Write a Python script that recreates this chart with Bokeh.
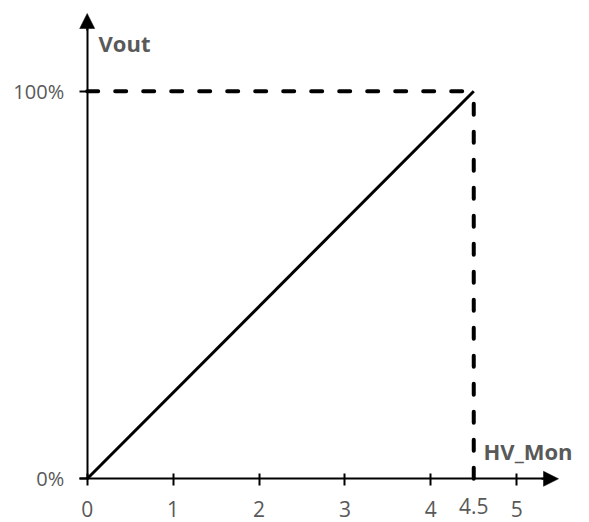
from bokeh.plotting import figure
from bokeh.models import LinearAxis, FixedTicker, Range1d, Arrow, NormalHead, Label
from bokeh.embed import file_html
from bokeh.resources import INLINE

# ---- data ----
hv_mon = [0, 4.5]
vout = [0, 100]
x_ticks = [0, 1, 2, 3, 4, 5]
x_tick_labels = ["0", "1", "2", "3", "4", "5"]
x_mark_ticks = [4.5]
x_mark_labels = ["4.5"]
y_ticks = [0, 100]
y_tick_labels = ["0%", "100%"]
x_title = "HV_Mon"
y_title = "Vout"

# ---- layout constants ----
W, H = 589, 522
PX_X, PX_Y = 85.9, 3.876      # pixels per data unit
OX, OY = 86.7, 478.3          # origin in figure pixels
GRAY = "#595959"
FONT = "Open Sans"

def dx(px):
    return (px - OX) / PX_X

def dy(py):
    return (OY - py) / PX_Y

p = figure(width=W, height=H, output_backend="svg", toolbar_location=None,
           x_axis_type=None, y_axis_type=None,
           x_range=Range1d(dx(0), dx(W)), y_range=Range1d(dy(H), dy(0)),
           min_border=0)
p.outline_line_color = None
p.background_fill_color = "white"
p.border_fill_color = "white"

x_end = hv_mon[-1]
y_end = vout[-1]

# dashed guide lines
p.line([hv_mon[0], x_end], [y_end, y_end], line_color="black", line_width=4,
       line_dash="11 17", line_cap="round")
p.line([x_end, x_end], [vout[0], y_end], line_color="black", line_width=4,
       line_dash="11 17", line_cap="round")
# main line
p.line(hv_mon, vout, line_color="black", line_width=3)

# x axis
xa = LinearAxis(ticker=FixedTicker(ticks=x_ticks), fixed_location=0,
                bounds=(dx(79), dx(544)),
                major_label_overrides={t: l for t, l in zip(x_ticks, x_tick_labels)},
                axis_line_color="black", axis_line_width=2,
                major_tick_line_color="black", major_tick_line_width=2,
                major_tick_in=5, major_tick_out=7,
                minor_tick_line_color=None,
                major_label_standoff=15,
                major_label_text_font=FONT, major_label_text_font_size="21px",
                major_label_text_color=GRAY)
p.add_layout(xa, "below")

xa2 = LinearAxis(ticker=FixedTicker(ticks=x_mark_ticks), fixed_location=0,
                 major_label_overrides={t: l for t, l in zip(x_mark_ticks, x_mark_labels)},
                 axis_line_color=None, major_tick_line_color=None,
                 major_tick_in=0, major_tick_out=0,
                 minor_tick_line_color=None,
                 major_label_standoff=19,
                 major_label_text_font=FONT, major_label_text_font_size="21px",
                 major_label_text_color=GRAY)
p.add_layout(xa2, "below")

# y axis
ya = LinearAxis(ticker=FixedTicker(ticks=y_ticks), fixed_location=0,
                bounds=(0, dy(27)),
                major_label_overrides={t: l for t, l in zip(y_ticks, y_tick_labels)},
                axis_line_color="black", axis_line_width=2,
                major_tick_line_color="black", major_tick_line_width=2,
                major_tick_in=0, major_tick_out=8,
                minor_tick_line_color=None,
                major_label_standoff=15,
                major_label_text_font=FONT, major_label_text_font_size="20px",
                major_label_text_color=GRAY)
p.add_layout(ya, "left")

# arrow heads
p.add_layout(Arrow(end=NormalHead(size=15, fill_color="black", line_color="black", line_width=0.5),
                   x_start=dx(541), y_start=0, x_end=dx(558), y_end=0,
                   line_color="black", line_width=2))
p.add_layout(Arrow(end=NormalHead(size=15, fill_color="black", line_color="black", line_width=0.5),
                   x_start=0, y_start=dy(30), x_end=0, y_end=dy(13),
                   line_color="black", line_width=2))

# axis titles
p.add_layout(Label(x=dx(98), y=dy(42), text=y_title, text_font=FONT, text_font_style="bold",
                   text_font_size="22px", text_color=GRAY, text_baseline="alphabetic"))
p.add_layout(Label(x=dx(483), y=dy(450), text=x_title, text_font=FONT, text_font_style="bold",
                   text_font_size="22px", text_color=GRAY, text_baseline="alphabetic"))

open("out.html", "w").write(file_html(p, INLINE))
